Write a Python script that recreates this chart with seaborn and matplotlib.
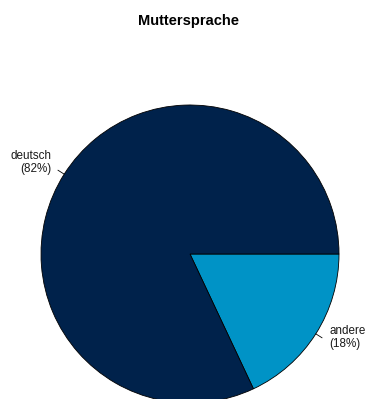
import numpy as np
import matplotlib
matplotlib.use("Agg")
import matplotlib.pyplot as plt
import seaborn as sns

categories = ["andere", "deutsch"]
values = [18, 82]
colors = ["#0093C6", "#00224B"]
title = "Muttersprache"

sns.set_theme(style="white")
plt.rcParams["font.family"] = ["Liberation Sans", "DejaVu Sans"]

fig = plt.figure(figsize=(3.66, 3.99), dpi=100)
ax = fig.add_axes([0, 0, 1, 1])

wedges, _ = ax.pie(values, colors=colors, startangle=0, counterclock=False,
                   radius=1, center=(0, 0), frame=True,
                   wedgeprops=dict(edgecolor="black", linewidth=0.6))
ax.set_xlim(-190 / 149, (366 - 190) / 149)
ax.set_ylim(-(399 - 254) / 149, 254 / 149)
ax.set_aspect("equal")
ax.axis("off")

total = sum(values)
for w, cat, v in zip(wedges, categories, values):
    mid = np.deg2rad((w.theta1 + w.theta2) / 2)
    c, s = np.cos(mid), np.sin(mid)
    ax.plot([c, 1.05 * c], [s, 1.05 * s], color="black", lw=0.6, clip_on=False)
    ax.text(1.1 * c + (0.008 if c > 0 else 0), 1.1 * s + 0.027,
            f"{cat}\n({round(100 * v / total)}%)",
            ha="left" if c > 0 else "right", va="center",
            fontsize=8.4, color="#1a1a1a", linespacing=1.1)

fig.text(188.5 / 366, 1 - 21 / 399, title, ha="center", va="center",
         fontsize=10.5, fontweight="bold", color="black")

fig.savefig("out.png", dpi=100)
